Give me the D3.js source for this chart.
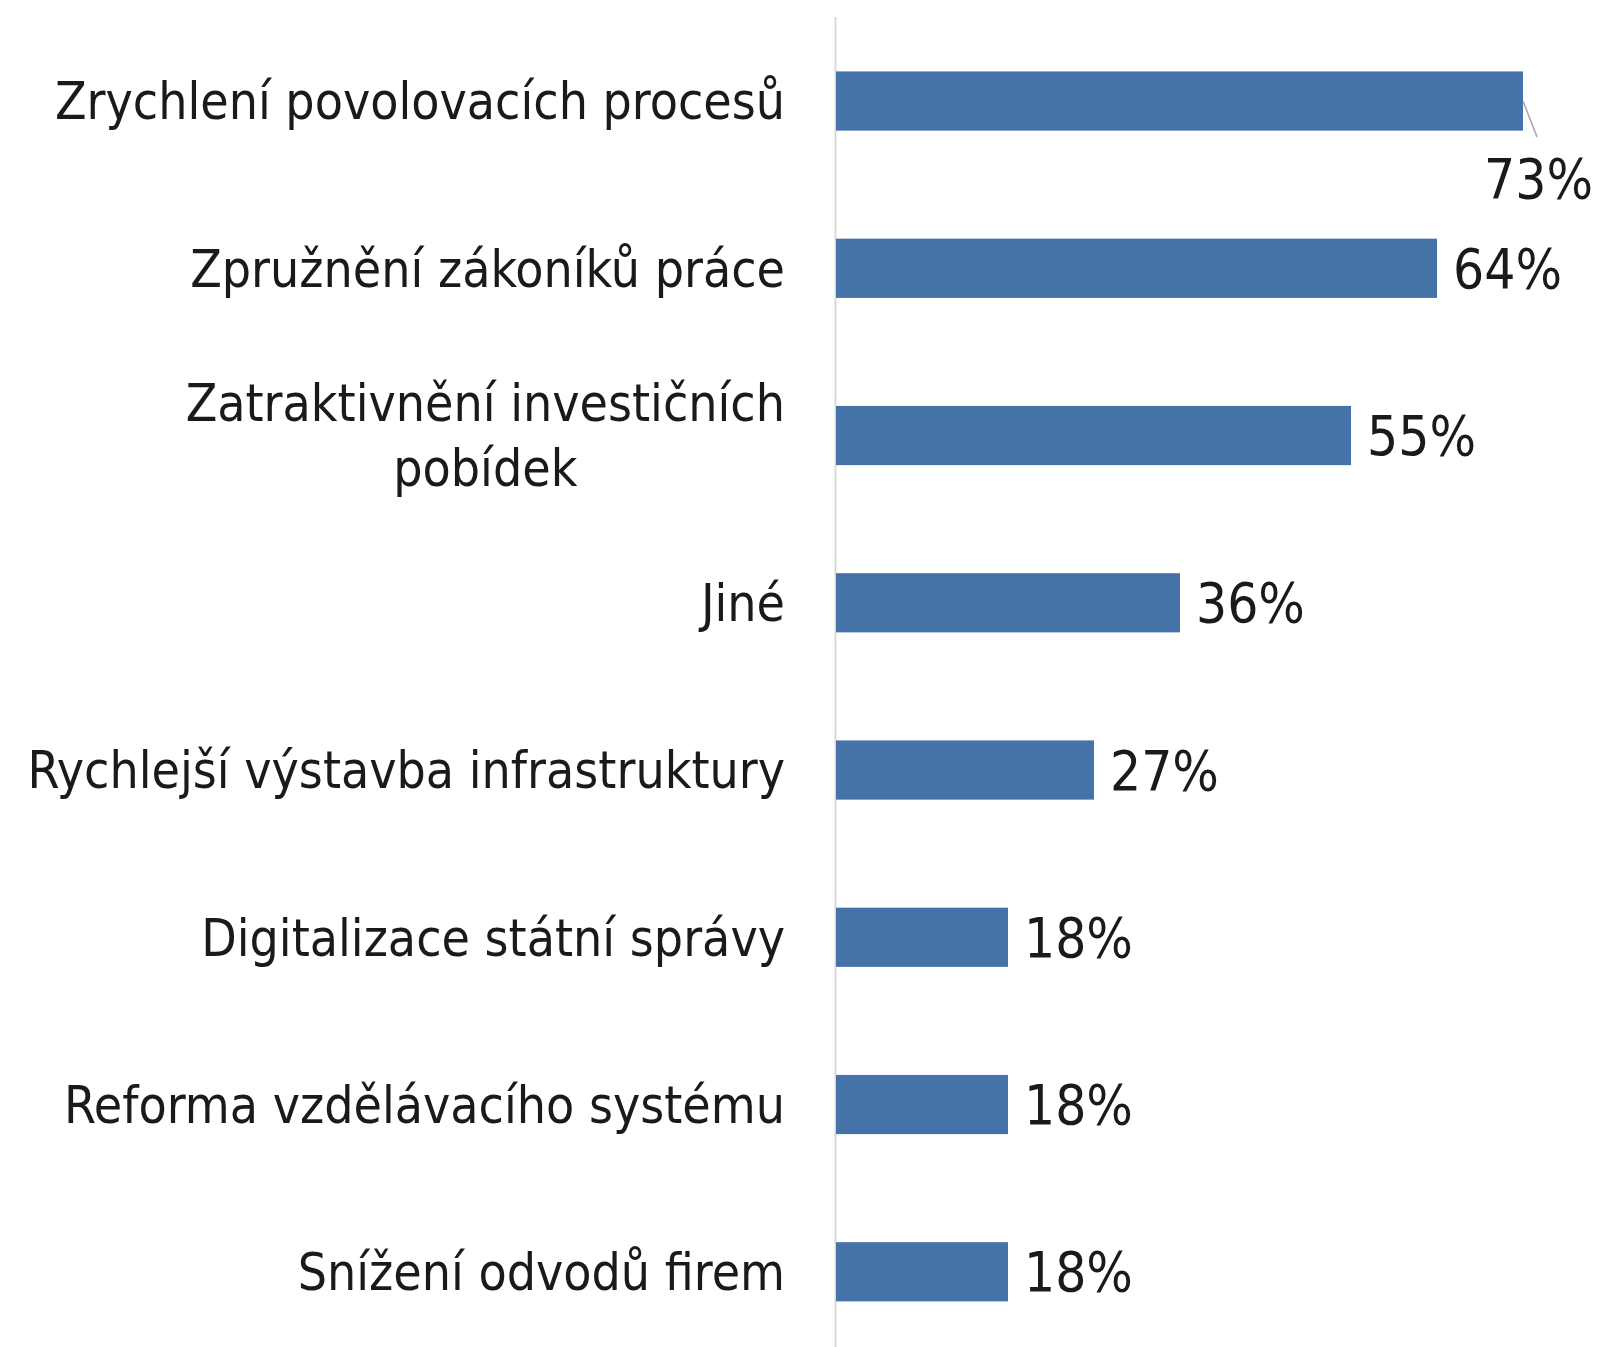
<!DOCTYPE html>
<html>
<head>
<meta charset="utf-8">
<script src="https://cdn.jsdelivr.net/npm/d3@7"></script>
<style>
  html, body { margin: 0; padding: 0; background: #fff; }
  svg { display: block; }
  text { font-family: "DejaVu Sans Condensed", "DejaVu Sans", sans-serif; font-stretch: condensed; fill: #1a1a1a; }
</style>
</head>
<body>
<svg id="chart" width="1599" height="1347"></svg>
<script>
const categories = [
  "Zrychlení povolovacích procesů",
  "Zpružnění zákoníků práce",
  "Zatraktivnění investičních pobídek",
  "Jiné",
  "Rychlejší výstavba infrastruktury",
  "Digitalizace státní správy",
  "Reforma vzdělávacího systému",
  "Snížení odvodů firem"
];
const labelLines = [
  ["Zrychlení povolovacích procesů"],
  ["Zpružnění zákoníků práce"],
  ["Zatraktivnění investičních", "pobídek"],
  ["Jiné"],
  ["Rychlejší výstavba infrastruktury"],
  ["Digitalizace státní správy"],
  ["Reforma vzdělávacího systému"],
  ["Snížení odvodů firem"]
];
const values = [0.727, 0.636, 0.545, 0.364, 0.273, 0.182, 0.182, 0.182];
const valueLabels = ["73%", "64%", "55%", "36%", "27%", "18%", "18%", "18%"];

const svg = d3.select("#chart");
const fontSize = 51.3;
const valueFontSize = 54.5;

const x = d3.scaleLinear().domain([0, 0.8]).range([836, 1592]);
const y = d3.scaleBand().domain(categories).range([17.4, 1355.4])
  .paddingInner(0.646).paddingOuter(0.323);

// axis line
svg.append("line")
  .attr("x1", 835.5).attr("x2", 835.5)
  .attr("y1", 17).attr("y2", 1347)
  .attr("stroke", "#d9d9d9").attr("stroke-width", 2);

// bars
svg.selectAll("rect.bar").data(categories).join("rect")
  .attr("class", "bar")
  .attr("x", x(0))
  .attr("y", d => y(d))
  .attr("width", (d, i) => x(values[i]) - x(0))
  .attr("height", y.bandwidth())
  .attr("fill", "#4673a7");

// category labels
const labelRight = 785;
categories.forEach((c, i) => {
  const lines = labelLines[i];
  const cy = y(c) + y.bandwidth() / 2;
  const lh = 65;
  const g = svg.append("text")
    .attr("font-size", fontSize);
  if (lines.length === 1) {
    g.attr("text-anchor", "end")
      .attr("x", labelRight)
      .attr("y", cy)
      .attr("dy", "0.36em")
      .text(lines[0]);
  } else {
    const tmp = svg.append("text").attr("font-size", fontSize).text(lines[0]);
    const w = tmp.node().getComputedTextLength();
    tmp.remove();
    const cx = labelRight - w / 2;
    g.attr("text-anchor", "middle");
    lines.forEach((ln, j) => {
      g.append("tspan")
        .attr("x", cx)
        .attr("y", cy + (j - (lines.length - 1) / 2) * lh)
        .attr("dy", "0.36em")
        .text(ln);
    });
  }
});

// value labels
categories.forEach((c, i) => {
  const cy = y(c) + y.bandwidth() / 2;
  const xe = x(values[i]);
  if (i === 0) {
    svg.append("line")
      .attr("x1", xe).attr("y1", cy)
      .attr("x2", xe + 14).attr("y2", cy + 36)
      .attr("stroke", "#a6a6a6").attr("stroke-width", 1.5);
    svg.append("text")
      .attr("font-size", valueFontSize)
      .attr("x", 1484).attr("y", cy + 77)
      .attr("dy", "0.36em")
      .text(valueLabels[i]);
  } else {
    svg.append("text")
      .attr("font-size", valueFontSize)
      .attr("x", xe + 16).attr("y", cy)
      .attr("dy", "0.36em")
      .text(valueLabels[i]);
  }
});
</script>
</body>
</html>
